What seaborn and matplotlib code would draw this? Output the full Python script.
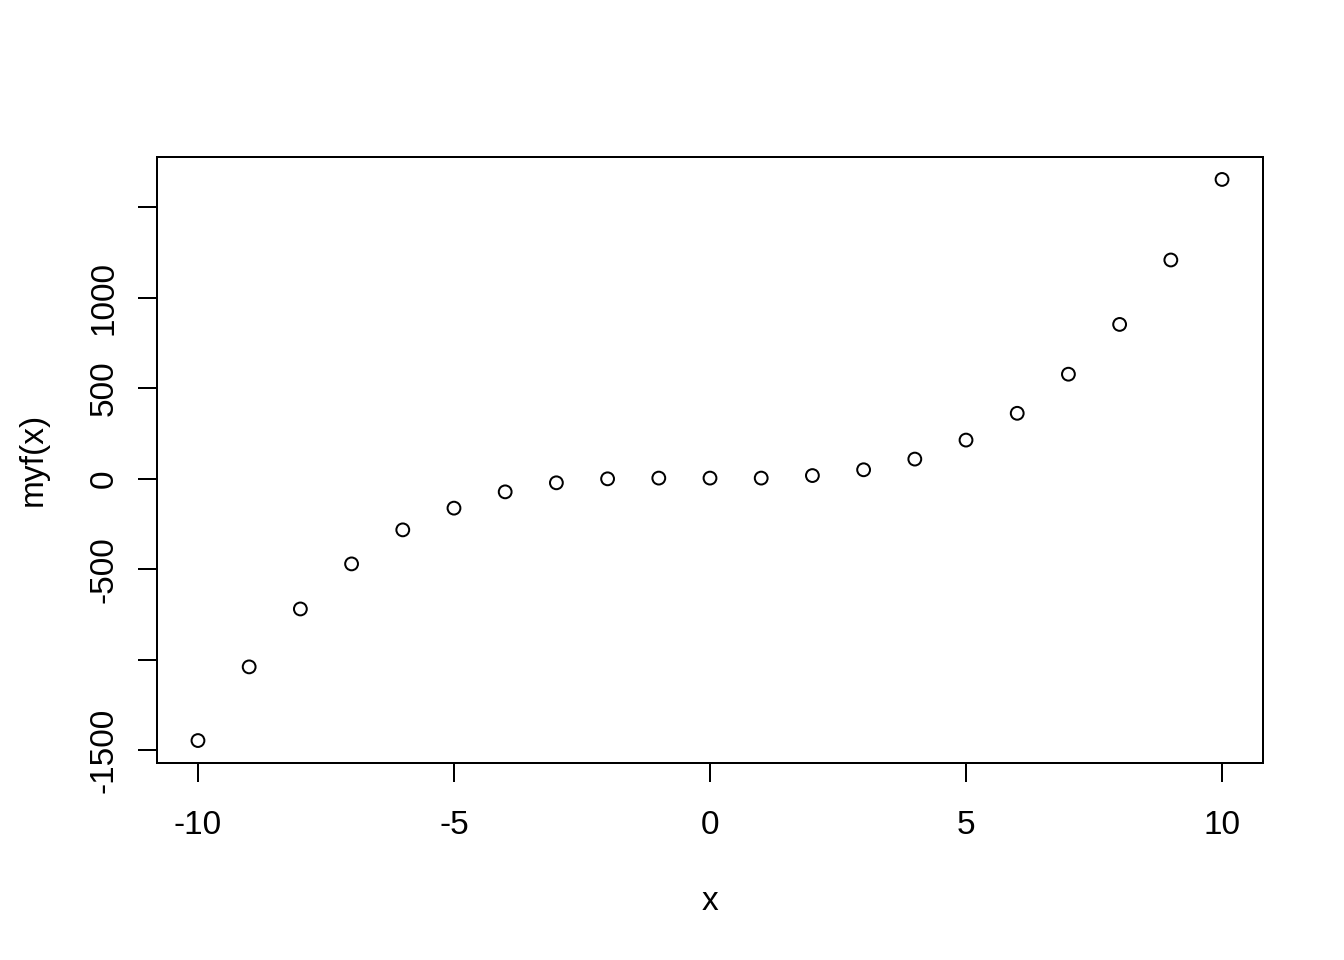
import numpy as np
import pandas as pd
import seaborn as sns
import matplotlib
matplotlib.use('Agg')
import matplotlib.pyplot as plt

# values
x_vals = [-10, -9, -8, -7, -6, -5, -4, -3, -2, -1, 0, 1, 2, 3, 4, 5, 6, 7, 8, 9, 10]
y_vals = [-1446, -1039, -719, -470, -282, -162, -72, -22, 0, 4, 4, 4, 18, 50, 109, 214, 362, 578, 853, 1209, 1654]
x_ticks = [-10, -5, 0, 5, 10]
y_ticks = [-1500, -1000, -500, 0, 500, 1000, 1500]
y_ticklabels = ['-1500', '', '-500', '0', '500', '1000', '']

sns.set_theme(style='white')
plt.rcParams['font.family'] = ['Liberation Sans', 'DejaVu Sans']

df = pd.DataFrame({'x': x_vals, 'y': y_vals})

W, H = 1344, 960
fs = 12.5
fig = plt.figure(figsize=(7, 5), dpi=192)
ax = fig.add_axes([157 / W, 1 - 763 / H, (1263 - 157) / W, (763 - 157) / H])

sns.scatterplot(data=df, x='x', y='y', ax=ax, marker='o', s=4.8 ** 2,
                facecolor='none', edgecolor='black', linewidth=0.75)

# R style 4% padding
xr = max(x_vals) - min(x_vals)
yr = max(y_vals) - min(y_vals)
ax.set_xlim(min(x_vals) - 0.04 * xr, max(x_vals) + 0.04 * xr)
ax.set_ylim(min(y_vals) - 0.04 * yr, max(y_vals) + 0.04 * yr)

ax.set_xticks(x_ticks)
ax.set_xticklabels([str(t) for t in x_ticks])
ax.set_yticks(y_ticks)
ax.set_yticklabels(y_ticklabels, rotation=90, va='center')

ax.tick_params(axis='both', direction='out', length=7.1, width=0.75, color='black',
               labelsize=fs, labelcolor='black', bottom=True, left=True)
ax.tick_params(axis='x', pad=10.5)
ax.tick_params(axis='y', pad=7)

for sp in ax.spines.values():
    sp.set_color('black')
    sp.set_linewidth(0.75)

ax.set_xlabel('x', fontsize=fs, color='black')
ax.set_ylabel('myf(x)', fontsize=fs, color='black')
ax.xaxis.set_label_coords(710 / W, 1 - 910 / H, transform=fig.transFigure)
ax.xaxis.label.set_va('baseline')
ax.yaxis.set_label_coords(42 / W, 1 - 459 / H, transform=fig.transFigure)
ax.yaxis.label.set_rotation_mode('anchor')
ax.yaxis.label.set_ha('center')
ax.yaxis.label.set_va('baseline')

fig.savefig('out.png', dpi=192, facecolor='white')
